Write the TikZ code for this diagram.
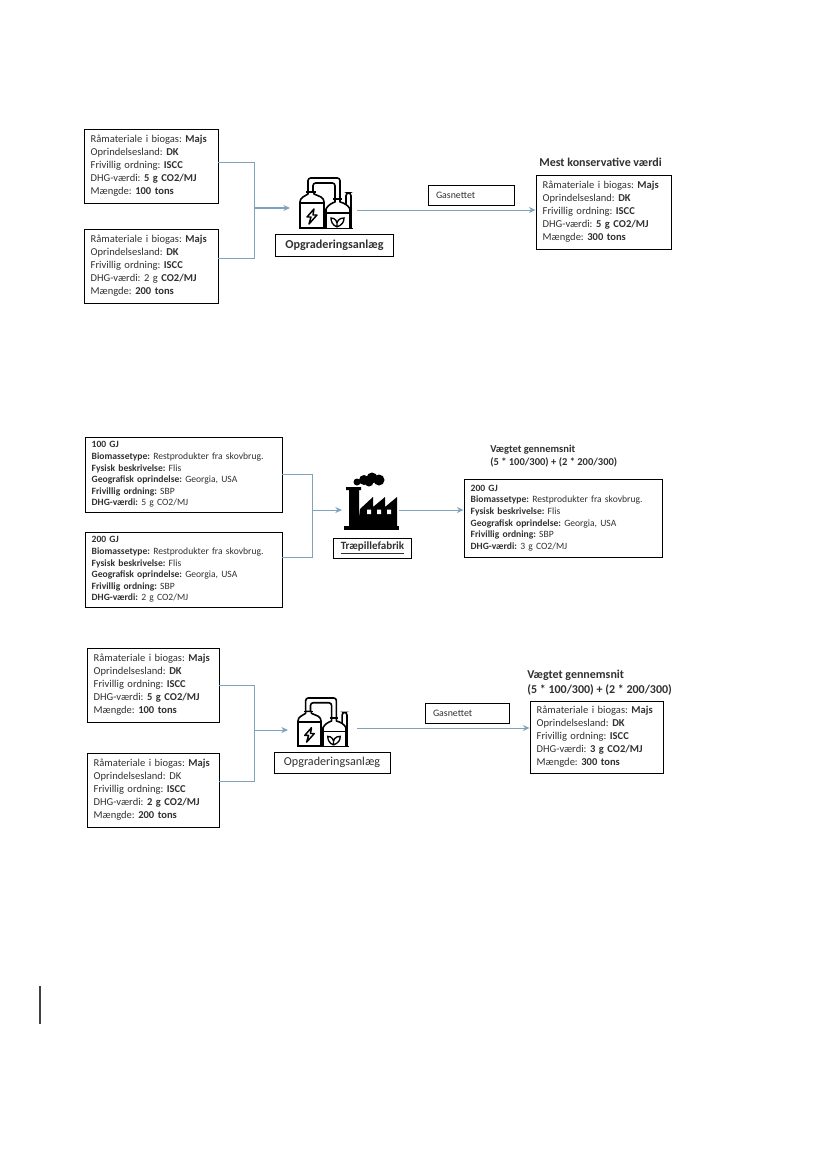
\documentclass[tikz,border=0pt]{standalone}
\usepackage{fontspec}
\setmainfont{Carlito}
\usetikzlibrary{arrows.meta,positioning}
\definecolor{connblue}{HTML}{7FA3BA}
\definecolor{boxtext}{HTML}{303030}
\begin{document}
\frenchspacing
\begin{tikzpicture}[x=0.75pt, y=-0.75pt, every node/.style={text=boxtext}]
\tikzset{infobox/.style 2 args={draw=black, line width=0.7pt, inner xsep=5pt, inner ysep=0pt, align=left, text width=#1, minimum height=#2, font=\fontsize{7.9}{9.8}\selectfont}}
\tikzset{widebox/.style 2 args={infobox={#1}{#2}, font=\fontsize{7.2}{8.7}\selectfont}}
\tikzset{labelbox/.style 2 args={draw=black, line width=0.7pt, minimum width=#1, minimum height=#2, inner sep=0pt, font=\fontsize{9.1}{11}\selectfont\bfseries}}
\tikzset{gasbox/.style={draw=black, line width=0.6pt, inner xsep=6pt, inner ysep=0pt, text width=#1, minimum height=15pt, align=left, font=\fontsize{7.4}{8}\selectfont}}
\tikzset{titletext/.style={anchor=west, inner sep=0pt, align=left, font=\fontsize{9}{11.2}\selectfont\bfseries}}
\tikzset{conn/.style={draw=connblue, line width=0.7pt}}
\tikzset{connarrow/.style={conn, -{Stealth[length=5pt, width=4.5pt]}}}
\tikzset{plant icon/.pic={
  \draw[line width=1.2pt, black, line join=round] (8,15) -- (8,17) -- (3,20) .. controls (1,21) and (0,23) .. (0,25) -- (0,51) -- (24,51) -- (24,25) .. controls (24,23) and (23,21) .. (21,20) -- (14,17) -- (14,15) -- cycle;
  \draw[line width=1.2pt, black] (0,26) -- (24,26) (6,15) -- (16,15);
  \draw[line width=1.1pt, black, line join=round] (14,32) -- (7,40) -- (11,40) -- (9,47) -- (17,38) -- (13,38) -- cycle;
  \draw[line width=1.2pt, black, rounded corners=2pt] (8,15) -- (8,1) -- (40,1) -- (40,23) (13,15) -- (13,6) -- (35,6) -- (35,23);
  \draw[line width=1.2pt, black, line join=round] (26,51) -- (26,32) .. controls (28,28) and (32,26) .. (35,25) -- (35,22) -- (40,22) -- (40,25) .. controls (44,26) and (48,28) .. (50,32) -- (50,51);
  \draw[line width=1.2pt, black] (26,36) -- (50,36) (33,22) -- (42,22);
  \draw[line width=1.2pt, black, rounded corners=2pt] (46,28) -- (46,16) -- (51,16) -- (51,51);
  \draw[line width=1pt, black] (37,50) .. controls (32,48) and (31,44) .. (31,41) .. controls (35,41) and (38,44) .. (37,50) .. controls (36,44) and (39,41) .. (44,41) .. controls (44,45) and (42,48) .. (37,50);
  \draw[line width=1.4pt, black] (-1,51.5) -- (53,51.5);
}}
\tikzset{factory icon/.pic={
  \fill[black] (0,54) rectangle (55,58);
  \fill[black] (2,15) -- (17,15) -- (17,18) -- (15,18) -- (15,54) -- (5,54) -- (5,18) -- (2,18) -- cycle;
  \fill[black] (14,54) -- (16,37) -- (29,25) -- (29,35) -- (41,25) -- (41,35) -- (53,25) -- (53,54) -- cycle;
  \fill[white] (23,37.5) rectangle (27,42) (33,37.5) rectangle (37,42) (43,37.5) rectangle (47,42);
  \fill[black] (13,10) circle (3.5) (20,8) circle (5) (28,6) circle (5.5) (35,8) circle (5.5) (25,10) circle (4.5);
}}
\useasboundingbox (0,0) rectangle (827,1169);

\node[infobox={90.5pt}{55.5pt}] (boxa) at (151,166) {Råmateriale i biogas: \textbf{Majs}\\Oprindelsesland: \textbf{DK}\\Frivillig ordning: \textbf{ISCC}\\DHG-værdi: \textbf{5 g CO2/MJ}\\Mængde: \textbf{100 tons}};
\node[infobox={90.5pt}{55.5pt}] (boxb) at (151,266) {Råmateriale i biogas: \textbf{Majs}\\Oprindelsesland: \textbf{DK}\\Frivillig ordning: \textbf{ISCC}\\DHG-værdi: 2 g \textbf{CO2/MJ}\\Mængde: \textbf{200 tons}};
\coordinate (joina) at (254,208);
\pic at (300,177) {plant icon};
\coordinate (planta) at (290,208);
\coordinate (planta out) at (357,210);
\node[labelbox={88pt}{17pt}] (labela) at (334.5,245.5) {Opgraderingsanlæg};
\node[gasbox=52.5pt] (gasa) at (471,195) {Gasnettet};
\node[infobox={91.25pt}{55.5pt}] (resa) at (603.5,212) {Råmateriale i biogas: \textbf{Majs}\\Oprindelsesland: \textbf{DK}\\Frivillig ordning: \textbf{ISCC}\\DHG-værdi: \textbf{5 g CO2/MJ}\\Mængde: \textbf{300 tons}};
\node[titletext] (titlea) at (539,162) {Mest konservative værdi};
\draw[conn] (boxa.3.4) -| (joina);
\draw[conn] (boxb.6) -| (joina);
\draw[connarrow, line width=1pt] (joina) -- (planta);
\draw[connarrow] (planta out) -- (resa.west |- planta out);

\node[widebox={137.75pt}{56.25pt}] (boxc) at (183.5,474.5) {\textbf{100 GJ}\\\textbf{Biomassetype:} Restprodukter fra skovbrug.\\\textbf{Fysisk beskrivelse:} Flis\\\textbf{Geografisk oprindelse:} Georgia, USA\\\textbf{Frivillig ordning:} SBP\\\textbf{DHG-værdi:} 5 g CO2/MJ};
\node[widebox={137.75pt}{56.25pt}] (boxd) at (183.5,569.5) {\textbf{200 GJ}\\\textbf{Biomassetype:} Restprodukter fra skovbrug.\\\textbf{Fysisk beskrivelse:} Flis\\\textbf{Geografisk oprindelse:} Georgia, USA\\\textbf{Frivillig ordning:} SBP\\\textbf{DHG-værdi:} 2 g CO2/MJ};
\coordinate (joinb) at (312,510);
\pic at (344,472) {factory icon};
\coordinate (factory) at (342,510);
\coordinate (factory out) at (399,510);
\node[labelbox={59pt}{15pt}, font=\fontsize{8.3}{9}\selectfont\bfseries] (labelb) at (372.5,548) {\underline{Træpillefabrik}};
\node[widebox={138.5pt}{58.5pt}] (resb) at (563,518) {\textbf{200 GJ}\\\textbf{Biomassetype:} Restprodukter fra skovbrug.\\\textbf{Fysisk beskrivelse:} Flis\\\textbf{Geografisk oprindelse:} Georgia, USA\\\textbf{Frivillig ordning:} SBP\\\textbf{DHG-værdi:} 3 g CO2/MJ};
\node[titletext, font=\fontsize{7.9}{9.2}\selectfont\bfseries] (titleb) at (490,456) {Vægtet gennemsnit\\(5 * 100/300) + (2 * 200/300)};
\draw[conn] (boxc.east) -| (joinb);
\draw[conn] (boxd.7.8) -| (joinb);
\draw[connarrow] (joinb) -- (factory);
\draw[connarrow] (factory out) -- (resb.west |- factory out);

\node[infobox={89pt}{55.5pt}] (boxe) at (153,685) {Råmateriale i biogas: \textbf{Majs}\\Oprindelsesland: \textbf{DK}\\Frivillig ordning: \textbf{ISCC}\\DHG-værdi: \textbf{5 g CO2/MJ}\\Mængde: \textbf{100 tons}};
\node[infobox={89pt}{55.5pt}] (boxf) at (153,790) {Råmateriale i biogas: \textbf{Majs}\\Oprindelsesland: DK\\Frivillig ordning: \textbf{ISCC}\\DHG-værdi: \textbf{2 g CO2/MJ}\\Mængde: \textbf{200 tons}};
\coordinate (joinc) at (254,730);
\pic[scale=0.96] at (298,697) {plant icon};
\coordinate (plantc) at (288,730);
\coordinate (plantc out) at (357,728);
\node[labelbox={87pt}{15.75pt}, font=\fontsize{9.1}{11}\selectfont] (labelc) at (332,762.5) {Opgraderingsanlæg};
\node[gasbox=51pt] (gasc) at (467,713) {Gasnettet};
\node[infobox={89.75pt}{54pt}] (resc) at (596.5,737) {Råmateriale i biogas: \textbf{Majs}\\Oprindelsesland: \textbf{DK}\\Frivillig ordning: \textbf{ISCC}\\DHG-værdi: \textbf{3 g CO2/MJ}\\Mængde: \textbf{300 tons}};
\node[titletext] (titlec) at (527,682.5) {Vægtet gennemsnit\\(5 * 100/300) + (2 * 200/300)};
\draw[conn] (boxe.east) -| (joinc);
\draw[conn] (boxf.7.8) -| (joinc);
\draw[connarrow] (joinc) -- (plantc);
\draw[connarrow] (plantc out) -- (resc.west |- plantc out);

\coordinate (bartop) at (40,986);
\coordinate (barbottom) at (40,1024);
\draw[line width=1.1pt, black!75] (bartop) -- (barbottom);
\end{tikzpicture}
\end{document}
